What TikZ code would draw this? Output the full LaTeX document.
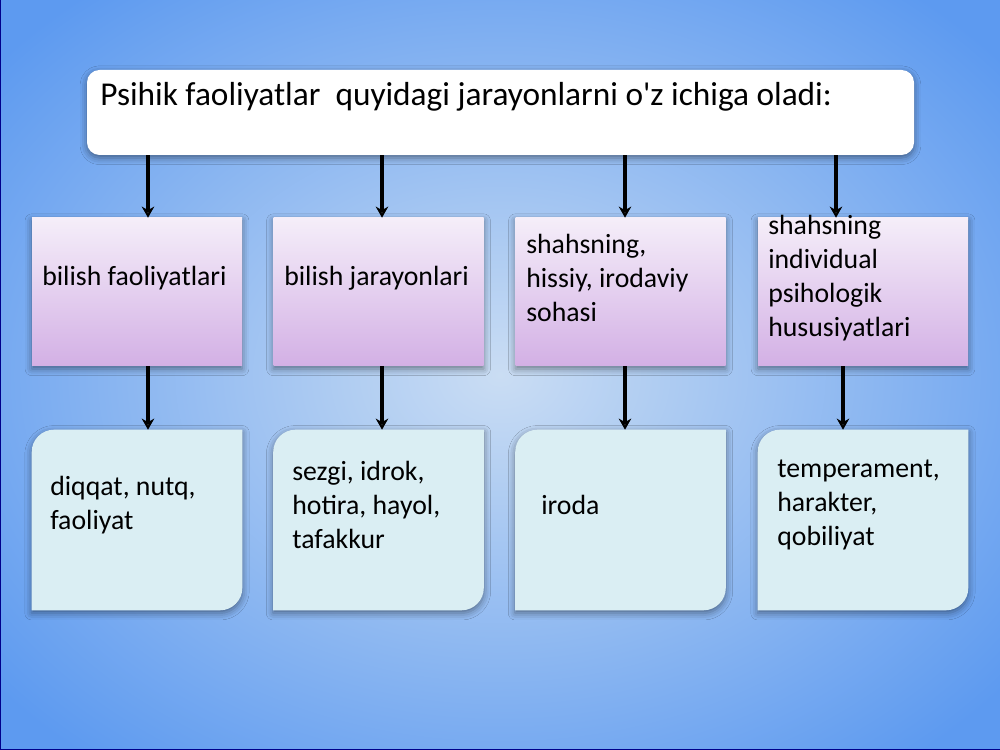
\documentclass[tikz,border=0pt]{standalone}
\usepackage{fontspec}
\setmainfont{Carlito}
\usetikzlibrary{arrows.meta,shadows.blur}
\definecolor{bgedge}{HTML}{5D9AF0}
\definecolor{bgmid}{HTML}{CADDF3}
\definecolor{lilac}{HTML}{D3B0E5}
\definecolor{lilactop}{HTML}{F5EEF9}
\definecolor{icefill}{HTML}{DAEEF3}
\begin{document}
\begin{tikzpicture}[x=0.72pt,y=0.72pt]

\tikzstyle{every node}+=[inner sep=0pt]
\tikzstyle{shd}=[blur shadow={shadow xshift=0pt,shadow yshift=-2pt,shadow blur radius=5pt,shadow opacity=45}]
\tikzstyle{head}=[fill=white,rounded corners=9pt,minimum width=827*0.72pt,minimum height=85*0.72pt,shd]
\tikzstyle{topic}=[top color=lilactop,bottom color=lilac,minimum width=210*0.72pt,minimum height=148*0.72pt,shd]
\tikzstyle{leaf}=[minimum width=210*0.72pt,minimum height=180*0.72pt]
\tikzstyle{txt}=[anchor=west,align=left,font=\fontsize{20}{24.4}\selectfont]
\tikzstyle{arr}=[line width=2.2pt,-{Stealth[length=8pt,width=9pt]}]

\useasboundingbox (0,0) rectangle (1000,750);
\shade[inner color=bgmid,outer color=bgedge] (-150,-120) rectangle (1150,870);
\draw[line width=1pt,color=blue!55!black] (0,750) -- (0,0) -- (1000,0);

% header
\node[head] (head) at (500.5,637.5) {};
\node[anchor=base west,font=\fontsize{24}{29}\selectfont] (title) at (100,644)
  {Psihik faoliyatlar\ \ quyidagi jarayonlarni o\textquotesingle z ichiga oladi:};

% middle row
\node[topic] (p1) at (137,458) {};
\node[topic] (p2) at (378.5,458) {};
\node[topic] (p3) at (620.5,458) {};
\node[topic] (p4) at (863,458) {};
\node[txt] (pt1) at (42,472) {bilish faoliyatlari};
\node[txt] (pt2) at (284,472) {bilish jarayonlari};
\node[txt] (pt3) at (526,472) {shahsning,\\hissiy, irodaviy\\sohasi};
\node[txt] (pt4) at (768,472) {shahsning\\individual\\psihologik\\hususiyatlari};

% bottom row
\foreach \i/\cx in {1/137,2/378.5,3/620.5,4/863} {
  \node[leaf] (b\i) at (\cx,230) {};
  \fill[icefill,shd] (b\i.south west) -- ([yshift=-16pt]b\i.north west) arc (180:90:16pt)
    -- (b\i.north east) -- ([yshift=16pt]b\i.south east) arc (0:-90:16pt) -- cycle;
}
\node[txt] (bt1) at (50,245) {diqqat, nutq,\\faoliyat};
\node[txt] (bt2) at (292,245) {sezgi, idrok,\\hotira, hayol,\\tafakkur};
\node[txt] (bt3) at (541,245) {iroda};
\node[txt] (bt4) at (777,245) {temperament,\\harakter,\\qobiliyat};

% arrows
\foreach \i/\ax in {1/148,2/382,3/625,4/836}
  \draw[arr] (head.south -| \ax,0) -- (p\i.north -| \ax,0);
\foreach \i/\ax in {1/148,2/382,3/625,4/843}
  \draw[arr] (p\i.south -| \ax,0) -- (b\i.north -| \ax,0);
\end{tikzpicture}
\end{document}
